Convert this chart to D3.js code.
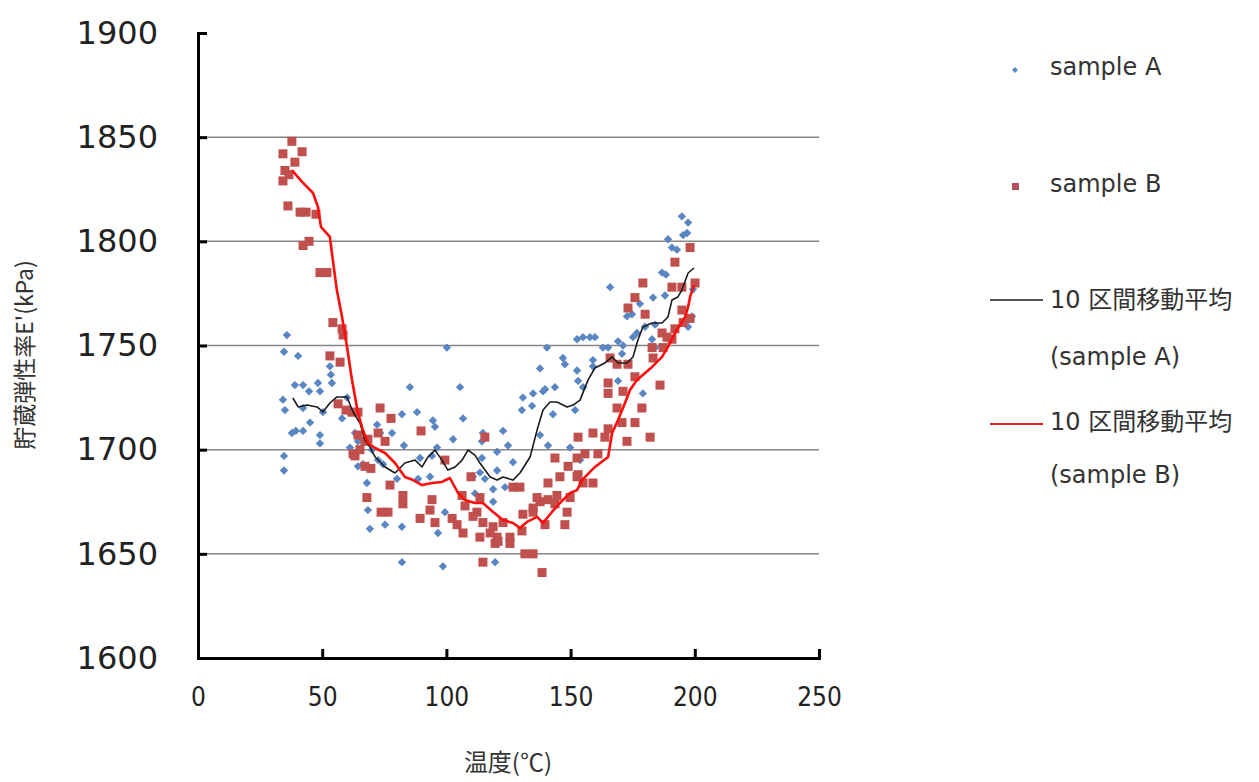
<!DOCTYPE html>
<html>
<head>
<meta charset="utf-8">
<script src="https://cdn.jsdelivr.net/npm/d3@7"></script>
<style>
  html, body { margin: 0; padding: 0; background: #fff; }
  svg { display: block; }
</style>
</head>
<body>
<svg id="chart" width="1259" height="782"></svg>
<script>
// Storage modulus E' (kPa) versus temperature (°C), two samples
const sampleA = [
  [35.8,1755],[34.6,1747],[40.3,1745],[34.2,1724],[35.0,1719],[34.6,1697],[34.6,1690],
  [39.0,1731],[42.3,1731],[44.7,1728],[48.3,1732],[49.1,1728],[42.3,1720],[50.3,1718],
  [37.8,1708],[39.4,1709],[42.3,1709],[45.1,1713],[49.1,1707],[49.1,1703],[53.1,1740],
  [53.5,1736],[53.9,1732],[60.0,1725],[58.0,1715],[63.2,1708],[61.2,1701],[64.4,1704],
  [64.4,1692],[66.4,1693],[72.1,1712],[73.3,1708],[70.0,1700],[68.0,1684],[68.4,1671],
  [69.2,1662],[75.3,1664],[82.1,1663],[96.6,1660],[99.4,1670],[82.1,1646],[98.6,1644],
  [119.6,1646],[85.3,1730],[105.5,1730],[100.2,1749],[82.1,1717],[88.2,1718],[94.6,1714],
  [95.4,1711],[106.7,1715],[78.1,1708],[102.7,1705],[96.2,1701],[82.9,1702],[72.5,1695],
  [80.1,1686],[88.6,1686],[93.4,1687],[74.5,1693],[89.4,1696],[94.2,1697],[114.7,1708],
  [122.8,1709],[114.3,1704],[124.8,1702],[120.4,1699],[114.3,1696],[120.4,1690],[126.8,1694],
  [113.5,1689],[110.7,1687],[115.5,1686],[118.8,1681],[123.6,1682],[127.6,1682],[111.5,1679],
  [118.8,1675],[130.8,1725],[134.5,1721],[130.4,1719],[134.9,1727],[138.9,1728],[143.7,1730],
  [139.7,1729],[140.5,1749],[137.7,1739],[146.9,1744],[147.7,1741],[152.6,1753],[152.6,1738],
  [142.9,1717],[151.8,1719],[140.9,1702],[149.8,1701],[137.7,1707],[153.8,1695],[159.0,1740],
  [155.0,1730],[153.0,1733],[155.0,1754],[157.8,1754],[159.8,1754],[163.0,1749],[165.1,1749],
  [169.1,1752],[171.1,1750],[170.7,1746],[159.0,1743],[169.1,1733],[179.1,1727],[165.9,1778],
  [173.1,1768],[177.9,1770],[172.7,1764],[174.7,1765],[176.7,1756],[175.1,1754],[180.0,1759],
  [184.0,1760],[182.8,1753],[184.0,1749],[183.2,1773],[188.0,1774],[186.8,1785],[188.4,1784],
  [189.2,1801],[190.8,1797],[192.8,1796],[194.8,1812],[197.3,1809],[196.9,1804],[195.3,1803],
  [197.3,1759],[198.9,1764],[199.3,1777]
];

const sampleB = [
  [37.8,1848],[34.2,1842],[41.9,1843],[39.0,1838],[35.0,1834],[34.2,1829],[36.6,1832],
  [36.2,1817],[41.1,1814],[43.5,1814],[47.5,1813],[42.3,1798],[44.7,1800],[49.1,1785],
  [51.9,1785],[54.3,1761],[58.0,1758],[58.4,1755],[53.1,1745],[57.2,1742],[56.4,1722],
  [59.6,1719],[62.0,1718],[64.4,1718],[73.3,1720],[77.7,1715],[89.8,1709],[72.5,1708],
  [68.4,1705],[64.4,1707],[62.4,1698],[65.2,1700],[67.2,1704],[63.2,1697],[67.2,1692],
  [68.0,1677],[69.6,1691],[75.3,1704],[77.3,1683],[99.4,1695],[109.9,1687],[82.5,1678],
  [82.5,1674],[94.2,1676],[107.5,1673],[76.5,1670],[73.7,1670],[93.4,1671],[102.3,1667],
  [110.7,1668],[89.4,1667],[95.4,1665],[104.3,1664],[106.7,1660],[115.5,1706],[153.0,1706],
  [159.0,1708],[113.5,1677],[152.6,1696],[143.7,1696],[149.0,1692],[145.7,1687],[140.9,1684],
  [152.6,1687],[155.0,1684],[159.0,1684],[106.3,1678],[126.8,1682],[129.6,1682],[136.5,1677],
  [144.5,1678],[149.8,1677],[140.9,1676],[137.7,1675],[143.7,1674],[134.9,1672],[112.3,1670],
  [114.7,1665],[118.8,1663],[122.8,1665],[117.6,1660],[120.4,1658],[125.6,1658],[130.8,1669],
  [134.9,1670],[130.4,1661],[148.6,1670],[147.7,1664],[113.5,1658],[119.6,1655],[125.6,1655],
  [139.7,1664],[131.6,1650],[134.9,1650],[114.7,1646],[138.5,1641],[120.8,1656],
  [198.1,1797],[192.0,1790],[200.1,1780],[190.8,1778],[194.8,1778],[179.1,1780],[175.9,1773],
  [173.1,1768],[180.0,1765],[198.1,1763],[194.8,1767],[195.3,1761],[192.0,1758],[186.8,1756],
  [188.8,1754],[187.2,1749],[182.8,1749],[190.8,1753],[183.2,1744],[165.9,1744],[168.7,1741],
  [173.1,1741],[175.9,1735],[165.1,1732],[165.1,1727],[171.1,1728],[186.0,1731],[178.7,1720],
  [168.7,1720],[170.7,1713],[175.9,1713],[165.1,1710],[163.8,1706],[172.7,1704],[182.0,1706],
  [155.8,1698],[161.0,1698],[153.0,1688]
];

// 10-point moving averages of each sample
const movingAvgA = [
  [38.2,1724.8],[40.3,1720.5],[43.9,1721.4],[47.9,1720.5],[50.3,1718.1],[53.1,1722.4],
  [55.9,1725.3],[60.0,1725.3],[62.4,1718.1],[65.2,1712.8],[67.2,1704.6],[69.2,1701.3],
  [71.3,1696.5],[75.3,1691.7],[79.3,1688.8],[83.3,1693.6],[87.4,1695.0],[90.2,1691.7],
  [92.6,1696.5],[95.4,1699.8],[98.2,1695.0],[100.6,1690.2],[103.5,1691.7],[106.3,1695.0],
  [108.7,1699.8],[111.5,1697.4],[113.5,1693.6],[117.6,1686.9],[120.4,1685.4],[122.8,1686.9],
  [126.8,1685.4],[129.6,1688.8],[133.7,1696.5],[136.5,1709.4],[138.9,1719.0],[141.7,1722.9],
  [144.5,1722.9],[148.6,1720.5],[151.0,1721.4],[153.8,1723.8],[157.0,1733.4],[159.8,1739.2],
  [163.8,1741.6],[166.7,1744.5],[169.1,1741.6],[172.7,1741.6],[175.1,1744.5],[177.1,1752.6],
  [179.1,1758.9],[182.8,1760.8],[186.8,1760.8],[189.2,1763.7],[190.8,1771.8],[193.2,1773.3],
  [194.8,1776.6],[197.3,1784.8],[199.7,1787.2]
];

const movingAvgB = [
  [37.8,1834.2],[41.9,1828.5],[46.3,1823.2],[48.3,1816.5],[49.5,1806.9],[53.1,1802.1],
  [53.9,1794.4],[55.9,1776.6],[58.0,1763.7],[60.0,1749.3],[62.0,1733.4],[64.4,1717.6],
  [66.4,1709.4],[68.4,1703.2],[71.3,1700.8],[75.3,1698.4],[79.3,1693.6],[83.3,1686.9],
  [86.6,1685.4],[90.2,1683.0],[94.2,1684.0],[98.2,1684.5],[101.4,1686.4],[104.7,1679.2],
  [107.5,1675.8],[111.5,1674.4],[114.7,1674.4],[118.8,1670.1],[122.8,1666.2],[126.8,1664.8],
  [129.6,1662.4],[132.4,1665.3],[136.5,1667.7],[138.9,1664.8],[142.5,1670.1],[145.7,1674.4],
  [149.8,1679.2],[152.6,1680.6],[154.6,1685.4],[159.8,1691.7],[165.1,1696.5],[166.7,1708.0],
  [169.1,1714.2],[171.9,1722.4],[173.9,1728.6],[176.7,1733.4],[180.0,1736.8],[182.8,1739.7],
  [186.8,1744.5],[189.2,1749.3],[191.2,1754.1],[193.2,1758.4],[196.1,1763.7],[197.3,1768.5],
  [198.1,1773.3],[199.7,1779.0]
];

const xTicks = [0, 50, 100, 150, 200, 250];
const yTicks = [1600, 1650, 1700, 1750, 1800, 1850, 1900];
const gridValues = [1650, 1700, 1750, 1800, 1850];

const svg = d3.select("#chart");
const x = d3.scaleLinear().domain([0, 250]).range([198, 819]);
const y = d3.scaleLinear().domain([1600, 1900]).range([658, 33]);

// horizontal gridlines
svg.append("g")
  .selectAll("line")
  .data(gridValues)
  .join("line")
  .attr("x1", x(0)).attr("x2", x(250))
  .attr("y1", d => y(d)).attr("y2", d => y(d))
  .attr("stroke", "#868686").attr("stroke-width", 1.5);

// square diamond marker path of half-diagonal r
const diamondPath = r => `M0,${-r}L${r},0L0,${r}L${-r},0Z`;

// scatter: sample A (diamonds)
svg.append("g")
  .selectAll("path")
  .data(sampleA)
  .join("path")
  .attr("d", diamondPath(4.2))
  .attr("transform", d => `translate(${x(d[0])},${y(d[1])})`)
  .attr("fill", "#5a86c3");

// scatter: sample B (squares)
const sq = 9;
svg.append("g")
  .selectAll("rect")
  .data(sampleB)
  .join("rect")
  .attr("x", d => x(d[0]) - sq / 2)
  .attr("y", d => y(d[1]) - sq / 2)
  .attr("width", sq).attr("height", sq)
  .attr("fill", "#c0504d");

// moving average lines
const line = d3.line().x(d => x(d[0])).y(d => y(d[1]));
svg.append("path")
  .datum(movingAvgA)
  .attr("d", line)
  .attr("fill", "none")
  .attr("stroke", "#1a1a1a")
  .attr("stroke-width", 1.6)
  .attr("stroke-linejoin", "round");
svg.append("path")
  .datum(movingAvgB)
  .attr("d", line)
  .attr("fill", "none")
  .attr("stroke", "#ff0d0d")
  .attr("stroke-width", 2.6)
  .attr("stroke-linejoin", "round");

// axes
const yAxis = d3.axisLeft(y).tickValues(yTicks).tickSize(-9).tickPadding(40).tickFormat(d3.format("d"));
const gy = svg.append("g").attr("transform", `translate(${x(0)},0)`).call(yAxis);
gy.select(".domain").attr("stroke", "#000").attr("stroke-width", 3);
gy.selectAll(".tick line").attr("stroke", "#000").attr("stroke-width", 3);
gy.selectAll(".tick text")
  .attr("font-family", "'DejaVu Sans', Verdana, sans-serif")
  .attr("font-size", 32)
  .attr("fill", "#222");

const xAxis = d3.axisBottom(x).tickValues(xTicks).tickSize(-9).tickPadding(30).tickFormat(d3.format("d"));
const gx = svg.append("g").attr("transform", `translate(0,${y(1600)})`).call(xAxis);
gx.select(".domain").attr("stroke", "#000").attr("stroke-width", 3);
gx.selectAll(".tick line").attr("stroke", "#000").attr("stroke-width", 3);
gx.selectAll(".tick text")
  .attr("font-family", "'DejaVu Sans Condensed', 'DejaVu Sans', sans-serif")
  .attr("font-size", 26)
  .attr("fill", "#222");

// axis titles
svg.append("text")
  .attr("x", 508).attr("y", 771)
  .attr("text-anchor", "middle")
  .attr("font-family", "'Noto Sans CJK JP', sans-serif")
  .attr("font-size", 24)
  .attr("fill", "#333")
  .text("温度(℃)");

svg.append("text")
  .attr("transform", "translate(33,355) rotate(-90)")
  .attr("text-anchor", "middle")
  .attr("font-family", "'Noto Sans CJK JP', sans-serif")
  .attr("font-size", 23)
  .attr("fill", "#333")
  .text("貯蔵弾性率E'(kPa)");

// legend
const legendFont = "'DejaVu Sans', Verdana, sans-serif";
const lg = svg.append("g");
lg.append("path")
  .attr("d", diamondPath(3))
  .attr("transform", "translate(1015,70)")
  .attr("fill", "#5a86c3");
lg.append("rect")
  .attr("x", 1012).attr("y", 183).attr("width", 7).attr("height", 7)
  .attr("fill", "#b0505a");
lg.append("line")
  .attr("x1", 990).attr("x2", 1043).attr("y1", 300).attr("y2", 300)
  .attr("stroke", "#1a1a1a").attr("stroke-width", 1.5);
lg.append("line")
  .attr("x1", 990).attr("x2", 1043).attr("y1", 424).attr("y2", 424)
  .attr("stroke", "#e02020").attr("stroke-width", 1.8);

const legendTexts = [
  ["sample A", 67],
  ["sample B", 184],
  ["10 区間移動平均", 300],
  ["(sample A)", 357],
  ["10 区間移動平均", 422],
  ["(sample B)", 475]
];
lg.selectAll("text.lt")
  .data(legendTexts)
  .join("text")
  .attr("class", "lt")
  .attr("x", 1050)
  .attr("y", d => d[1])
  .attr("dy", "0.35em")
  .attr("font-family", `${legendFont}, 'Noto Sans CJK JP'`)
  .attr("font-size", 24)
  .attr("fill", "#333")
  .text(d => d[0]);
</script>
</body>
</html>
